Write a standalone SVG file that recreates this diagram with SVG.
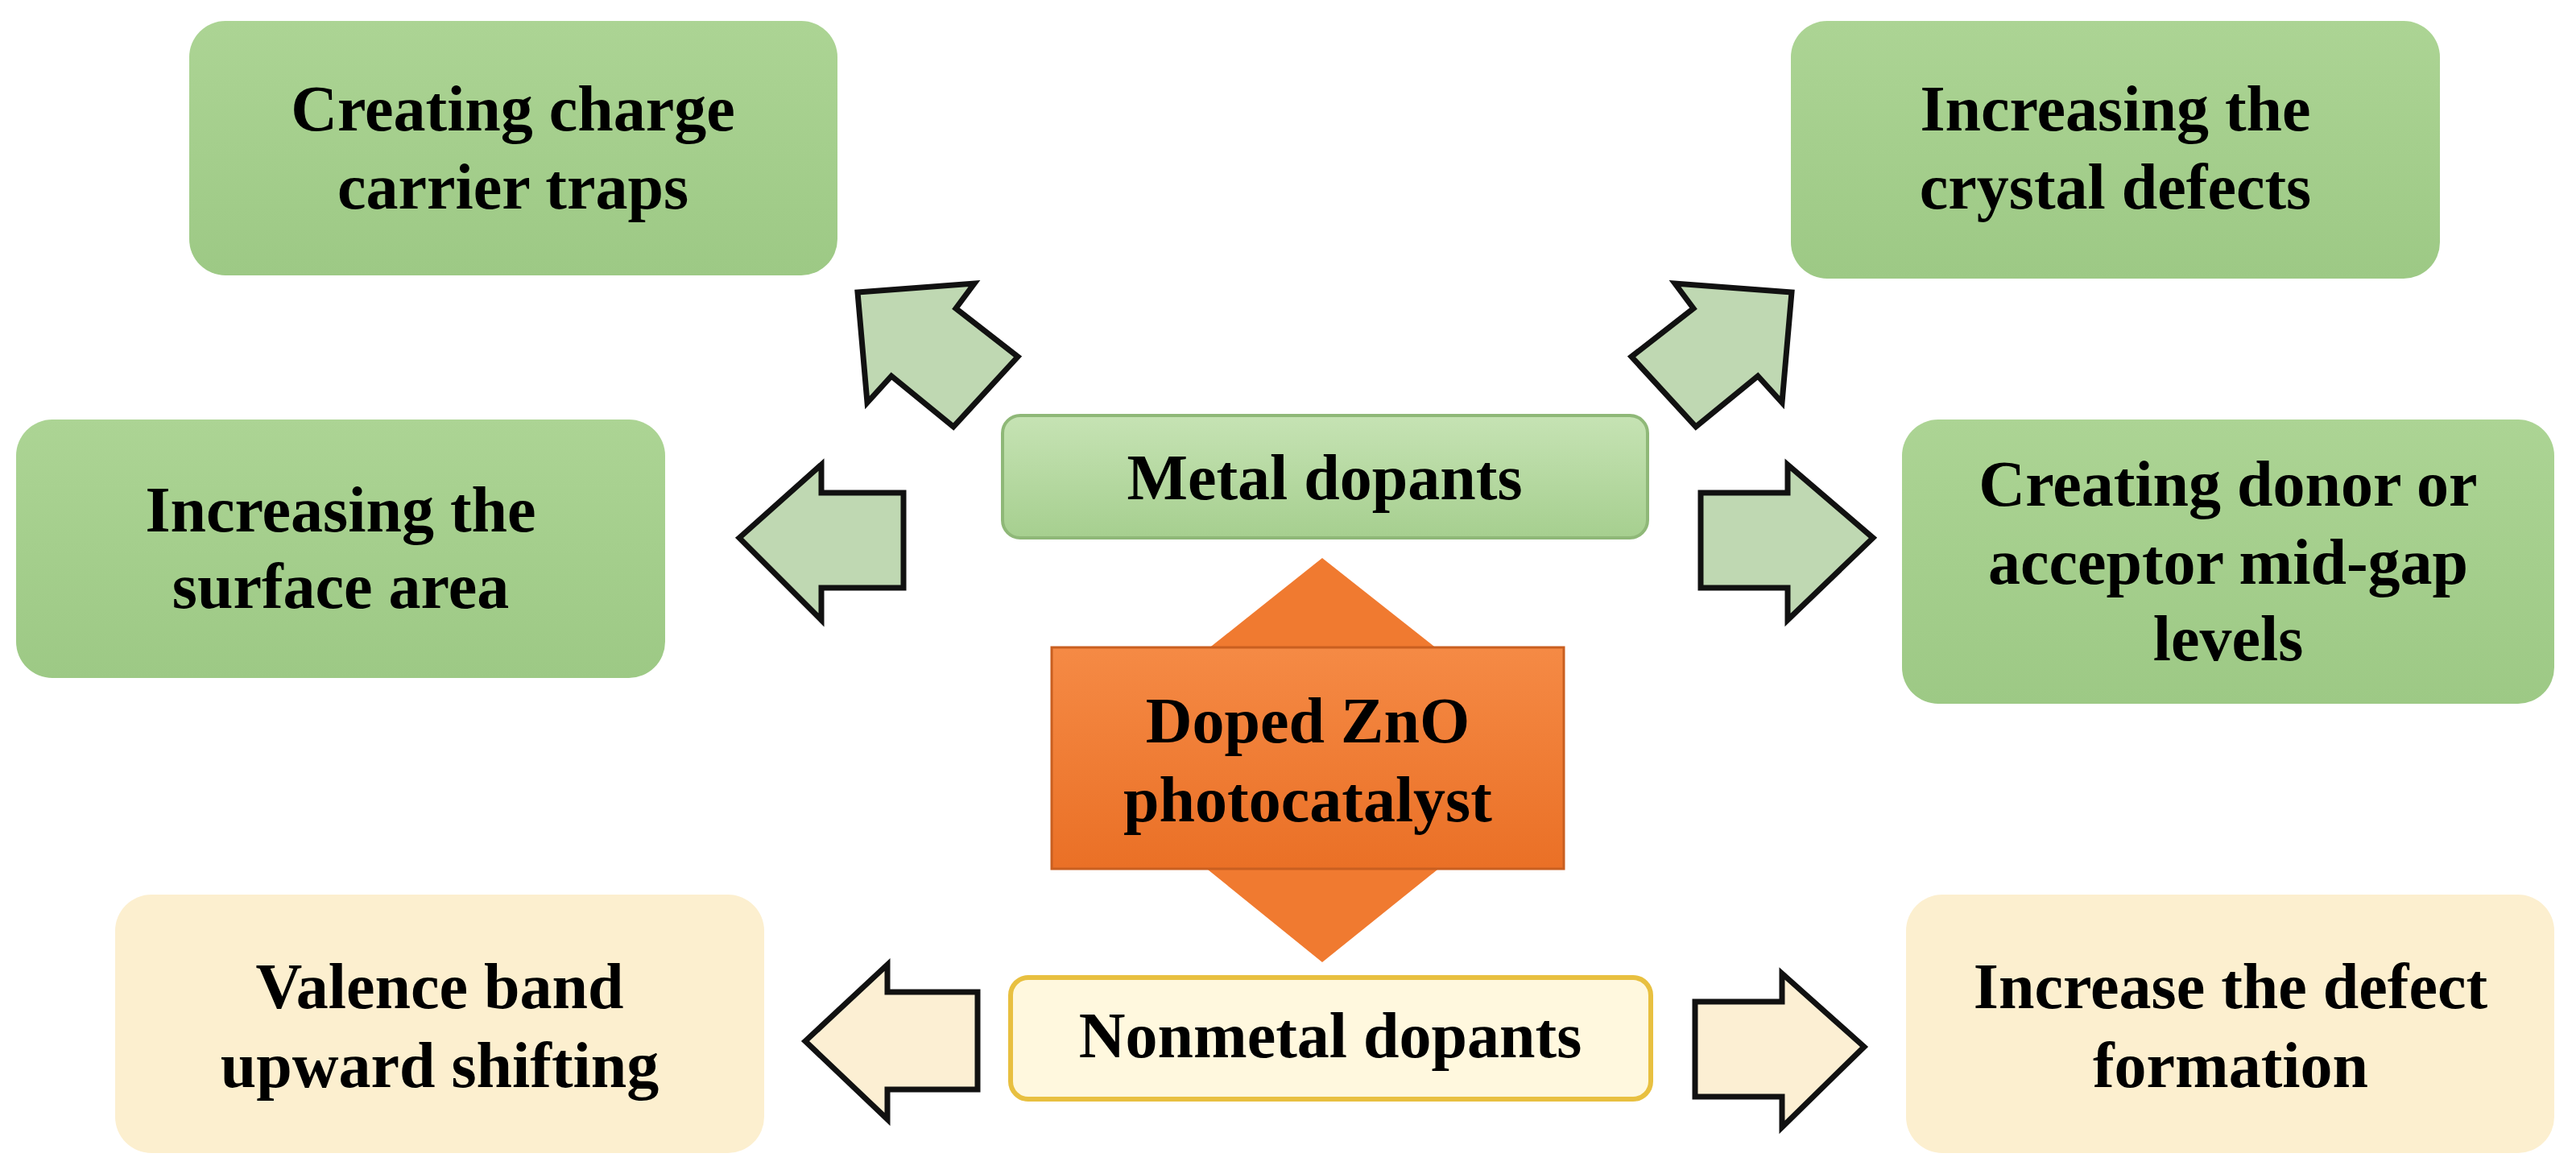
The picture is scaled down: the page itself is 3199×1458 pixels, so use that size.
<svg xmlns="http://www.w3.org/2000/svg" width="3199" height="1458" viewBox="0 0 3199 1458">
<style>
text{font-family:"Liberation Serif","Times New Roman",serif;font-weight:bold;font-size:80px;fill:#000;text-anchor:middle}
.g{fill:url(#gg)}
.c{fill:#fcefcf}
.ga{fill:#bfd8b2;stroke:#111;stroke-width:7;stroke-linejoin:miter}
.ca{fill:#fcefd3;stroke:#111;stroke-width:7}
</style>
<defs>
<linearGradient id="gg" x1="0" y1="0" x2="0" y2="1"><stop offset="0" stop-color="#acd494"/><stop offset="1" stop-color="#9dc985"/></linearGradient>
<linearGradient id="mg" x1="0" y1="0" x2="0" y2="1"><stop offset="0" stop-color="#c6e3b4"/><stop offset="1" stop-color="#a6cf8f"/></linearGradient>
<linearGradient id="og" x1="0" y1="0" x2="0" y2="1"><stop offset="0" stop-color="#f58a45"/><stop offset="1" stop-color="#ea7026"/></linearGradient>
</defs>
<rect width="3199" height="1458" fill="#fff"/>
<g id="connectors">
<polygon class="ga" points="1065,363 1210,352 1187,383 1264,443 1184,530 1107,467 1077,500"/>
<polygon class="ga" points="2225,363 2080,352 2103,383 2026,443 2106,530 2183,467 2213,500"/>
<polygon class="ga" points="918,668 1020,577 1020,612 1122,612 1122,730 1020,730 1020,770"/>
<polygon class="ga" points="2326,668 2220,577 2220,612 2112,612 2112,730 2220,730 2220,770"/>
<polygon class="ca" points="1000,1293 1102,1198 1102,1232 1214,1232 1214,1353 1102,1353 1102,1390"/>
<polygon class="ca" points="2315,1300 2213,1209 2213,1244 2105,1244 2105,1362 2213,1362 2213,1400"/>
</g>
<g id="n1"><rect class="g" x="235" y="26" width="805" height="316" rx="45"/><text x="637" y="162">Creating charge</text><text x="637" y="259">carrier traps</text></g>
<g id="n2"><rect class="g" x="2224" y="26" width="806" height="320" rx="45"/><text x="2627" y="162">Increasing the</text><text x="2627" y="259">crystal defects</text></g>
<g id="n3"><rect class="g" x="20" y="521" width="806" height="321" rx="45"/><text x="423" y="660">Increasing the</text><text x="423" y="755">surface area</text></g>
<g id="n4"><rect class="g" x="2362" y="521" width="810" height="353" rx="45"/><text x="2767" y="628">Creating donor or</text><text x="2767" y="725">acceptor mid-gap</text><text x="2767" y="820">levels</text></g>
<g id="metal"><rect x="1245" y="516" width="801" height="152" rx="22" fill="url(#mg)" stroke="#8fb878" stroke-width="4"/><text x="1645" y="620">Metal dopants</text></g>
<g id="doped">
<polygon points="1642,693 1785,806 1500,806" fill="#f07a30"/>
<polygon points="1500,1080 1785,1080 1642,1195" fill="#f07a30"/>
<rect x="1306" y="804" width="636" height="275" fill="url(#og)" stroke="#c95f20" stroke-width="3"/>
<text x="1624" y="922">Doped ZnO</text><text x="1624" y="1020">photocatalyst</text></g>
<g id="n5"><rect class="c" x="143" y="1111" width="806" height="321" rx="45"/><text x="546" y="1252">Valence band</text><text x="546" y="1350">upward shifting</text></g>
<g id="nonmetal"><rect x="1255" y="1214" width="795" height="151" rx="22" fill="#fff8de" stroke="#e8c040" stroke-width="6"/><text x="1652" y="1313">Nonmetal dopants</text></g>
<g id="n6"><rect class="c" x="2367" y="1111" width="805" height="321" rx="45"/><text x="2770" y="1252">Increase the defect</text><text x="2770" y="1350">formation</text></g>
</svg>
